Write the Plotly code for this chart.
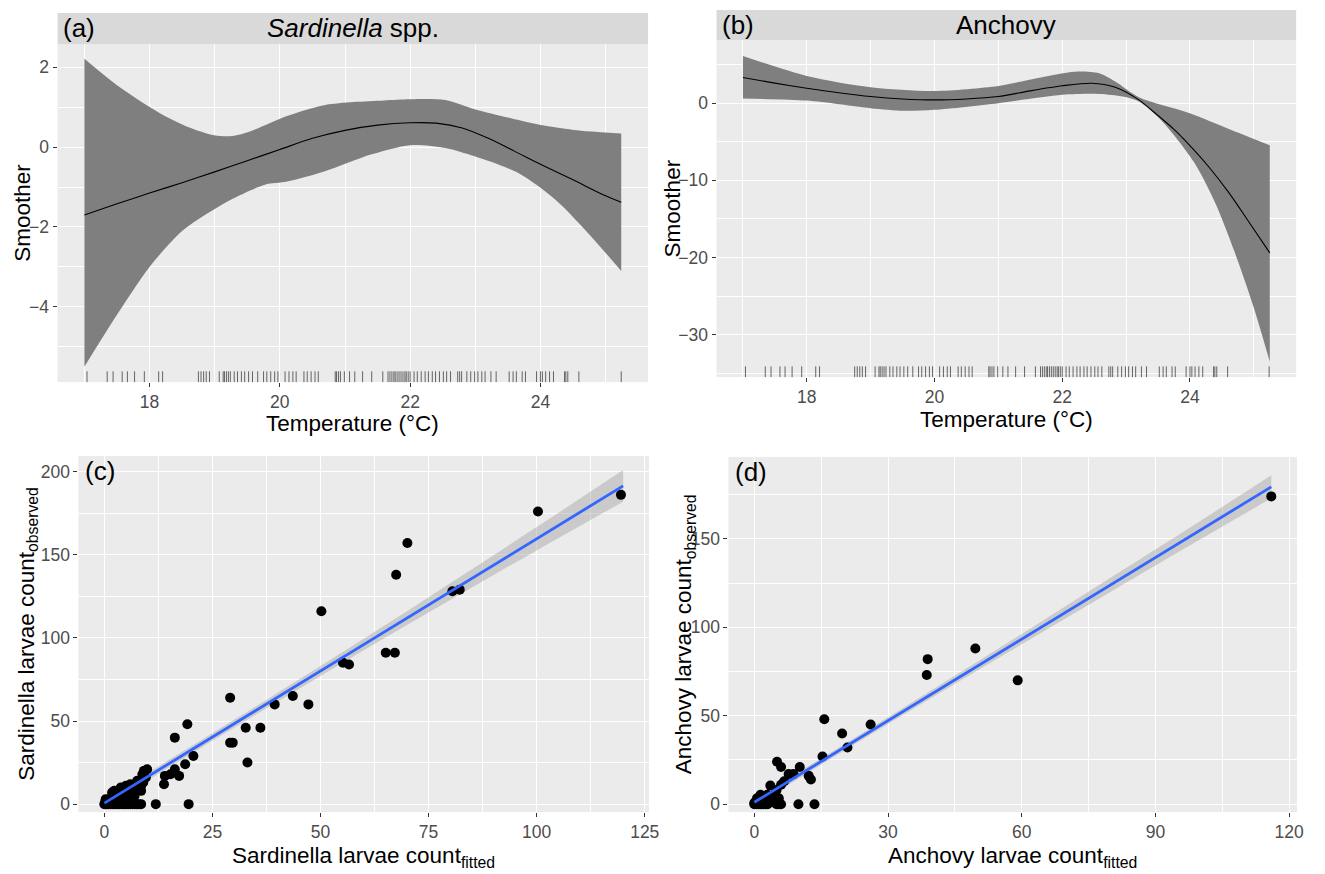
import plotly.graph_objects as go

W, H = 1325, 874

# ---------------- data ----------------
# (a) Sardinella smoother
sar_fit_t = [17.0, 17.5, 18.0, 18.5, 19.0, 19.5, 20.0, 20.5, 21.0, 21.5, 22.0, 22.4, 22.8, 23.2, 23.6, 24.0, 24.5, 25.0, 25.24]
sar_fit = [-1.70, -1.42, -1.15, -0.89, -0.62, -0.34, -0.06, 0.22, 0.42, 0.55, 0.61, 0.60, 0.48, 0.22, -0.10, -0.43, -0.82, -1.22, -1.38]
sar_up_t = [17.0, 17.5, 18.14, 18.6, 18.99, 19.27, 19.55, 20.11, 20.68, 21.13, 21.6, 22.0, 22.54, 22.99, 23.5, 23.95, 24.51, 25.24]
sar_up = [2.21, 1.55, 0.87, 0.50, 0.30, 0.28, 0.40, 0.78, 1.05, 1.13, 1.17, 1.20, 1.18, 0.95, 0.74, 0.57, 0.43, 0.34]
sar_lo_t = [17.0, 17.5, 18.0, 18.5, 19.0, 19.27, 19.77, 20.11, 20.68, 21.41, 22.0, 22.54, 22.99, 23.66, 24.23, 24.7, 25.24]
sar_lo = [-5.5, -4.2, -3.0, -2.1, -1.55, -1.30, -0.94, -0.86, -0.61, -0.18, 0.05, -0.02, -0.23, -0.65, -1.32, -2.1, -3.1]

# (b) Anchovy smoother
anc_fit_t = [17.0, 17.5, 18.0, 18.5, 19.0, 19.5, 20.0, 20.5, 21.0, 21.5, 22.0, 22.46, 22.83, 23.2, 23.5, 23.75, 24.0, 24.3, 24.6, 24.9, 25.25]
anc_fit = [3.32, 2.60, 1.94, 1.35, 0.86, 0.55, 0.43, 0.55, 0.86, 1.60, 2.25, 2.59, 2.07, 0.43, -1.6, -3.4, -5.5, -8.3, -11.5, -15.1, -19.4]
anc_up_t = [17.0, 18.0, 19.0, 20.0, 21.0, 21.6, 22.2, 22.58, 22.83, 23.2, 24.0, 24.6, 25.25]
anc_up = [6.12, 3.53, 2.07, 1.59, 2.24, 3.23, 4.09, 3.88, 2.80, 0.78, -1.3, -3.3, -5.45]
anc_lo_t = [17.0, 18.0, 19.0, 19.52, 20.0, 21.0, 22.0, 22.58, 22.95, 23.2, 23.56, 24.06, 24.4, 24.7, 25.0, 25.25]
anc_lo = [0.6, 0.34, -0.65, -0.99, -0.86, 0.0, 1.08, 1.2, 0.86, 0.22, -2.3, -7.6, -13.0, -19.3, -26.5, -33.5]

# temperatures for rug
rug_temp = [17.04, 17.35, 17.44, 17.58, 17.66, 17.77, 17.92, 18.14, 18.20, 18.75, 18.79, 18.83, 18.87, 18.92,
            19.07, 19.13, 19.15, 19.18, 19.21, 19.24, 19.30, 19.35, 19.41, 19.46, 19.52, 19.58, 19.66, 19.75,
            19.80, 19.86, 19.92, 19.97, 20.08, 20.14, 20.20, 20.25, 20.37, 20.42, 20.48, 20.54, 20.59, 20.85,
            20.87, 20.90, 20.93, 20.99, 21.07, 21.15, 21.27, 21.41, 21.58, 21.66, 21.69, 21.72, 21.75, 21.77,
            21.80, 21.83, 21.86, 21.89, 21.92, 21.94, 21.97, 22.00, 22.06, 22.11, 22.17, 22.23, 22.28, 22.34,
            22.39, 22.45, 22.51, 22.56, 22.62, 22.73, 22.76, 22.79, 22.87, 22.93, 22.99, 23.04, 23.10, 23.15,
            23.24, 23.32, 23.52, 23.58, 23.63, 23.72, 23.77, 23.94, 24.00, 24.03, 24.08, 24.14, 24.20, 24.37,
            24.39, 24.42, 24.59, 25.24]

# (c) Sardinella fitted vs observed
sar_fitted = [119.5, 100.3, 70.1, 67.5, 80.5, 82.2, 50.2, 65.1, 67.2, 55.2, 56.6, 29.1, 43.6, 39.4, 47.2,
              32.7, 36.1, 29.1, 29.7, 33.1, 19.2, 16.3, 20.6, 18.7, 16.3, 14.0, 15.3, 17.3, 13.8, 9.2, 8.8,
              8.0, 11.9, 19.5,
              0, 0.3, 0.6, 1, 1.5, 2, 2.5, 3, 3.5, 4, 4.5, 5, 5.5, 6, 6.5, 7, 7.5, 8, 8.5,
              0.2, 0.5, 0.3, 0.8, 1, 1.5, 2, 1.8, 2.3, 3, 3.5, 3.8, 4, 4.5, 5, 5.5, 5, 6, 6.1, 6.5, 7,
              7.2, 7.6, 8, 8.5, 9, 9.6, 9.2, 9.9, 8.5, 3, 2, 6]
sar_observed = [186, 176, 157, 138, 128, 129, 116, 91, 91, 85, 84, 64, 65, 60, 60,
                46, 46, 37, 37, 25, 48, 40, 29, 24, 21, 17, 18, 17, 12, 20, 18,
                12, 0, 0,
                0, 0, 0, 0, 0, 0, 0, 0, 0, 0, 0, 0, 0, 0, 0, 0, 0, 0, 0,
                1, 2, 3, 1, 3, 2, 4, 7, 8, 5, 3, 10, 6, 8, 4, 9, 11, 12, 7, 10, 5,
                12, 14, 9, 11, 13, 16, 20, 21, 8, 1, 2, 3]
sar_lm_x = [0, 120]
sar_lm_y = [0.6, 191.4]
sar_ci_x = [0, 10, 20, 40, 60, 80, 100, 120]
sar_ci_up = [2.8, 18.7, 34.6, 66.8, 99.4, 132.8, 166.6, 200.9]
sar_ci_lo = [-1.6, 14.3, 30.2, 61.6, 92.6, 122.8, 152.6, 181.9]

# (d) Anchovy fitted vs observed
anc_fitted = [116, 38.9, 38.7, 49.6, 59.1, 15.7, 19.7, 26.1, 20.9, 15.3, 5.1, 6.0, 10.2, 7.7, 8.8, 12.2,
              12.7, 6.7, 3.6, 5.0, 6.0, 4.4, 5.5, 2.9, 1.4, 0.6, 0, 9.9, 13.5,
              0, 0.5, 1, 1.5, 2, 2.5, 3, 5, 5.5, 6, 0.3, 1, 2, 2.5, 4, 4.8]
anc_observed = [174, 82, 73, 88, 70, 48, 40, 45, 32, 27, 24, 21, 21, 17, 17, 16,
                14, 13, 10.5, 8, 11, 4.3, 3.4, 5.3, 5.3, 3.4, 0.6, 0, 0,
                0, 0, 0, 0, 0, 0, 0, 0, 0, 0, 1.5, 2, 3.5, 4, 2, 0.8]
anc_lm_x = [0, 116]
anc_lm_y = [1.1, 179.4]
anc_ci_x = [0, 20, 40, 60, 80, 100, 116]
anc_ci_up = [3.1, 33.6, 64.8, 96.2, 128.1, 160.0, 185.9]
anc_ci_lo = [-0.9, 30.0, 60.4, 90.4, 120.1, 149.6, 172.9]

# ---------------- layout helpers ----------------
def px_x(p):
    return p / W

def px_y(p):
    return 1 - p / H

FONT = "Liberation Sans, Arial, sans-serif"
PANEL_BG = "#EBEBEB"
TICK_FONT = dict(family=FONT, size=17.5, color="#4D4D4D")

def axis(domain, rng, tickvals, minorvals, anchor):
    return dict(
        domain=domain, range=rng, anchor=anchor,
        tickmode="array", tickvals=tickvals,
        ticks="outside", ticklen=4, tickwidth=1, tickcolor="#333333",
        tickfont=TICK_FONT, showgrid=True, gridcolor="white", gridwidth=1.3,
        zeroline=False, showline=False, fixedrange=True,
        minor=dict(tickmode="array", tickvals=minorvals, showgrid=True,
                   gridcolor="white", gridwidth=0.6, ticks=""),
    )

fig = go.Figure()

# ---- (a) ----
fig.add_trace(go.Scatter(x=sar_lo_t, y=sar_lo, mode="lines", line=dict(width=0, shape="spline", smoothing=0.8),
                         xaxis="x", yaxis="y", showlegend=False, hoverinfo="skip"))
fig.add_trace(go.Scatter(x=sar_up_t, y=sar_up, mode="lines", line=dict(width=0, shape="spline", smoothing=0.8),
                         fill="tonexty", fillcolor="#7F7F7F", xaxis="x", yaxis="y", showlegend=False, hoverinfo="skip"))
fig.add_trace(go.Scatter(x=sar_fit_t, y=sar_fit, mode="lines", line=dict(width=1.1, color="black", shape="spline", smoothing=0.8),
                         xaxis="x", yaxis="y", showlegend=False))

# ---- (b) ----
fig.add_trace(go.Scatter(x=anc_lo_t, y=anc_lo, mode="lines", line=dict(width=0, shape="spline", smoothing=0.8),
                         xaxis="x2", yaxis="y2", showlegend=False, hoverinfo="skip"))
fig.add_trace(go.Scatter(x=anc_up_t, y=anc_up, mode="lines", line=dict(width=0, shape="spline", smoothing=0.8),
                         fill="tonexty", fillcolor="#7F7F7F", xaxis="x2", yaxis="y2", showlegend=False, hoverinfo="skip"))
fig.add_trace(go.Scatter(x=anc_fit_t, y=anc_fit, mode="lines", line=dict(width=1.1, color="black", shape="spline", smoothing=0.8),
                         xaxis="x2", yaxis="y2", showlegend=False))

# ---- (c) ----
fig.add_trace(go.Scatter(x=sar_ci_x, y=sar_ci_lo, mode="lines", line=dict(width=0, shape="spline"),
                         xaxis="x3", yaxis="y3", showlegend=False, hoverinfo="skip"))
fig.add_trace(go.Scatter(x=sar_ci_x, y=sar_ci_up, mode="lines", line=dict(width=0, shape="spline"),
                         fill="tonexty", fillcolor="rgba(153,153,153,0.4)", xaxis="x3", yaxis="y3",
                         showlegend=False, hoverinfo="skip"))
fig.add_trace(go.Scatter(x=sar_fitted, y=sar_observed, mode="markers",
                         marker=dict(size=10, color="black", line=dict(width=0)),
                         xaxis="x3", yaxis="y3", showlegend=False))
fig.add_trace(go.Scatter(x=sar_lm_x, y=sar_lm_y, mode="lines", line=dict(width=2.8, color="#3366FF"),
                         xaxis="x3", yaxis="y3", showlegend=False))

# ---- (d) ----
fig.add_trace(go.Scatter(x=anc_ci_x, y=anc_ci_lo, mode="lines", line=dict(width=0, shape="spline"),
                         xaxis="x4", yaxis="y4", showlegend=False, hoverinfo="skip"))
fig.add_trace(go.Scatter(x=anc_ci_x, y=anc_ci_up, mode="lines", line=dict(width=0, shape="spline"),
                         fill="tonexty", fillcolor="rgba(153,153,153,0.4)", xaxis="x4", yaxis="y4",
                         showlegend=False, hoverinfo="skip"))
fig.add_trace(go.Scatter(x=anc_fitted, y=anc_observed, mode="markers",
                         marker=dict(size=10, color="black", line=dict(width=0)),
                         xaxis="x4", yaxis="y4", showlegend=False))
fig.add_trace(go.Scatter(x=anc_lm_x, y=anc_lm_y, mode="lines", line=dict(width=2.8, color="#3366FF"),
                         xaxis="x4", yaxis="y4", showlegend=False))

# panel pixel boxes (left, right, top, bottom)
A = (58, 653, 44, 383)
B = (722, 1306, 40, 378)
C = (79, 654, 457, 814)
D = (734, 1307, 458, 814)

def dom_x(p):
    return [px_x(p[0]), px_x(p[1])]

def dom_y(p):
    return [px_y(p[3]), px_y(p[2])]

temp_major = [18, 20, 22, 24]
temp_minor = [17, 19, 21, 23, 25]

layout = dict(
    width=W, height=H, margin=dict(l=0, r=0, t=0, b=0),
    paper_bgcolor="white", plot_bgcolor=PANEL_BG, showlegend=False,
    font=dict(family=FONT),
    xaxis=axis(dom_x(A), [16.588, 25.652], temp_major, temp_minor, "y"),
    yaxis=axis(dom_y(A), [-5.885, 2.585], [-4, -2, 0, 2], [-5, -3, -1, 1], "x"),
    xaxis2=axis(dom_x(B), [16.587, 25.663], temp_major, temp_minor, "y2"),
    yaxis2=axis(dom_y(B), [-35.5, 8.2], [-30, -20, -10, 0], [-35, -25, -15, -5, 5], "x2"),
    xaxis3=axis(dom_x(C), [-6, 126], [0, 25, 50, 75, 100, 125], [12.5, 37.5, 62.5, 87.5, 112.5], "y3"),
    yaxis3=axis(dom_y(C), [-4.8, 209.4], [0, 50, 100, 150, 200], [25, 75, 125, 175], "x3"),
    xaxis4=axis(dom_x(D), [-5.8, 121.8], [0, 30, 60, 90, 120], [15, 45, 75, 105], "y4"),
    yaxis4=axis(dom_y(D), [-4.5, 196.3], [0, 50, 100, 150], [25, 75, 125, 175], "x4"),
)
fig.update_layout(**layout)

shapes = []
# strips
for box, top in ((A, 13), (B, 10)):
    shapes.append(dict(type="rect", xref="paper", yref="paper",
                       x0=px_x(box[0]), x1=px_x(box[1]), y0=px_y(box[2]), y1=px_y(top),
                       fillcolor="#D9D9D9", line=dict(width=0), layer="below"))
# rugs
for xa, ya in (("x", "y"), ("x2", "y2")):
    for t in rug_temp:
        shapes.append(dict(type="line", xref=xa, yref=ya + " domain", x0=t, x1=t, y0=0, y1=0.032,
                           line=dict(color="#555555", width=0.9)))
fig.update_layout(shapes=shapes)

ann = []
def text(x, y, s, size=22.5, angle=0, xanchor="center", yanchor="middle", color="black"):
    ann.append(dict(x=x, y=y, xref="paper", yref="paper", text=s, showarrow=False,
                    textangle=angle, xanchor=xanchor, yanchor=yanchor,
                    font=dict(family=FONT, size=size, color=color)))

# strip titles and tags
text(px_x((A[0] + A[1]) / 2), px_y((13 + A[2]) / 2), "<i>Sardinella</i> spp.", size=26)
text(px_x((B[0] + B[1]) / 2), px_y((10 + B[2]) / 2), "Anchovy", size=26)
text(px_x(A[0] + 3), px_y((13 + A[2]) / 2), "(a)", size=26, xanchor="left")
text(px_x(B[0] + 3), px_y((10 + B[2]) / 2), "(b)", size=26, xanchor="left")
text(px_x(C[0] + 5), px_y(C[2] + 15), "(c)", size=26, xanchor="left")
text(px_x(D[0] + 5), px_y(D[2] + 15), "(d)", size=26, xanchor="left")

# axis titles
text(px_x(22), px_y((A[2] + A[3]) / 2), "Smoother", angle=-90)
text(px_x(678), px_y((B[2] + B[3]) / 2), "Smoother", angle=-90)
text(px_x((A[0] + A[1]) / 2), px_y(424.5), "Temperature (°C)")
text(px_x((B[0] + B[1]) / 2), px_y(420.5), "Temperature (°C)")
text(px_x(28), px_y((C[2] + C[3]) / 2), "Sardinella larvae count<sub>observed</sub>", angle=-90)
text(px_x(690), px_y((D[2] + D[3]) / 2), "Anchovy larvae count<sub>observed</sub>", angle=-90)
text(px_x((C[0] + C[1]) / 2), px_y(859), "Sardinella larvae count<sub>fitted</sub>")
text(px_x((D[0] + D[1]) / 2), px_y(859), "Anchovy larvae count<sub>fitted</sub>")

fig.update_layout(annotations=ann)

fig.write_html("out.html", config={"displayModeBar": False},
               post_script="document.body.style.margin='0';document.body.style.overflow='hidden';")
